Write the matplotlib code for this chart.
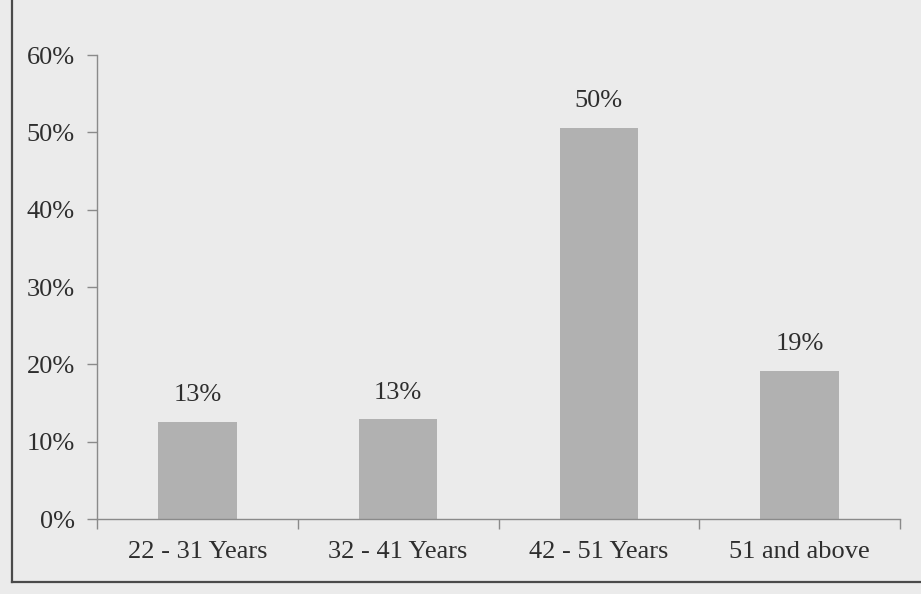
import matplotlib.pyplot as plt
from matplotlib.lines import Line2D
from matplotlib.ticker import PercentFormatter

# ──────────────────────────────────────────────────────────────
#  Data
# ──────────────────────────────────────────────────────────────
age_groups = ["22 - 31 Years", "32 - 41 Years", "42 - 51 Years", "51 and above"]
bar_heights = [12.6, 12.9, 50.6, 19.2]      # as drawn, in percent
bar_labels = ["13%", "13%", "50%", "19%"]   # as printed above the bars
y_ticks = [0, 10, 20, 30, 40, 50, 60]

BG = "#ebebeb"
BAR = "#b1b1b1"
INK = "#2e2e2e"
AXIS = "#8a8a8a"
FS = 19

plt.rcParams["font.family"] = ["Liberation Serif", "DejaVu Serif"]

fig = plt.figure(figsize=(9.21, 5.94), dpi=100, facecolor=BG)
ax = fig.add_axes([97 / 921, 1 - 519 / 594, 803 / 921, 464 / 594], facecolor=BG)

x = range(len(age_groups))
ax.bar(x, bar_heights, width=0.39, color=BAR, zorder=2)

for xi, h, lab in zip(x, bar_heights, bar_labels):
    ax.text(xi, h + 2.0, lab, ha="center", va="bottom",
            fontsize=FS, color=INK)

ax.set_xlim(-0.5, len(age_groups) - 0.5)
ax.set_ylim(0, 60)
ax.set_yticks(y_ticks)
ax.yaxis.set_major_formatter(PercentFormatter(decimals=0))

ax.set_xticks(list(x))
ax.set_xticklabels(age_groups)
ax.set_xticks([i - 0.5 for i in range(len(age_groups) + 1)], minor=True)
ax.tick_params(axis="x", which="major", length=0, pad=16,
               labelsize=FS, labelcolor=INK)
ax.tick_params(axis="x", which="minor", length=7, color=AXIS, width=1)
ax.tick_params(axis="y", length=7, color=AXIS, width=1, pad=9,
               labelsize=FS, labelcolor=INK)

for side in ("top", "right"):
    ax.spines[side].set_visible(False)
for side in ("left", "bottom"):
    ax.spines[side].set_color(AXIS)
    ax.spines[side].set_linewidth(1)

# outer frame of the scanned box (top and right edges fall off the page)
fig.add_artist(Line2D([12 / 921, 12 / 921], [1.0, 1 - 582 / 594],
                      transform=fig.transFigure, color="#4a4a4a", lw=1.6))
fig.add_artist(Line2D([12 / 921, 1.0], [1 - 582 / 594, 1 - 582 / 594],
                      transform=fig.transFigure, color="#4a4a4a", lw=1.6))

fig.savefig("out.png", dpi=100, facecolor=BG)
